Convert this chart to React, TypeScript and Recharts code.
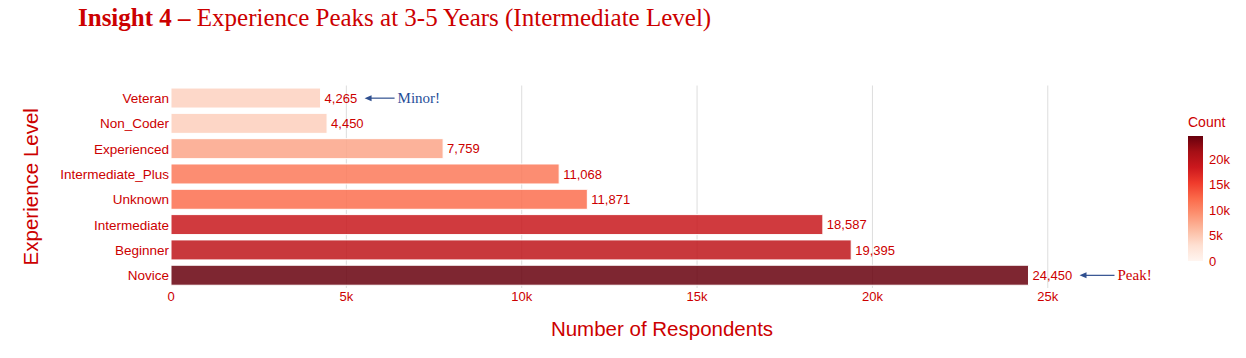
import React from "react";
import { Bar, BarChart, CartesianGrid, Cell, LabelList, ReferenceDot, XAxis, YAxis } from "recharts";

const levels = [
  "Veteran",
  "Non_Coder",
  "Experienced",
  "Intermediate_Plus",
  "Unknown",
  "Intermediate",
  "Beginner",
  "Novice",
];
const counts = [4265, 4450, 7759, 11068, 11871, 18587, 19395, 24450];
const xTicks = [0, 5000, 10000, 15000, 20000, 25000];
const colorbarTicks = [0, 5000, 10000, 15000, 20000];
const REDS = ["#fff5f0", "#fee0d2", "#fcbba1", "#fc9272", "#fb6a4a", "#ef3b2c", "#cb181d", "#a50f15", "#67000d"];

const X_MAX = 28000;
const RED_TEXT = "#cc0000";
const ARROW = "#2f4f8f";
const SANS = "'Liberation Sans', Arial, sans-serif";
const SERIF = "'Liberation Serif', 'Times New Roman', serif";

const cmax = Math.max(...counts);
const data = levels.map((name, i) => ({ name, count: counts[i] }));

document.body.style.margin = "0";

function hexToRgb(hex: string) {
  const n = parseInt(hex.slice(1), 16);
  return [(n >> 16) & 255, (n >> 8) & 255, n & 255];
}

function redsColor(value: number) {
  const t = Math.min(1, Math.max(0, value / cmax)) * (REDS.length - 1);
  const i = Math.min(REDS.length - 2, Math.floor(t));
  const f = t - i;
  const a = hexToRgb(REDS[i]);
  const b = hexToRgb(REDS[i + 1]);
  const c = a.map((v, k) => Math.round(v + (b[k] - v) * f));
  return `rgb(${c[0]},${c[1]},${c[2]})`;
}

const fmtK = (v: number) => (v === 0 ? "0" : `${v / 1000}k`);

function Annotation({
  cx,
  cy,
  text,
  color,
  tip,
  tail,
}: {
  cx?: number;
  cy?: number;
  text: string;
  color: string;
  tip: number;
  tail: number;
}) {
  if (cx == null || cy == null) return null;
  const x1 = cx + tip;
  const x2 = cx + tail;
  return (
    <g>
      <line x1={x1 + 5} y1={cy} x2={x2} y2={cy} stroke={ARROW} strokeWidth={1.2} />
      <path d={`M${x1},${cy} L${x1 + 7},${cy - 3} L${x1 + 7},${cy + 3} Z`} fill={ARROW} />
      <text x={x2 + 3} y={cy + 5} fill={color} fontFamily={SERIF} fontSize={15}>
        {text}
      </text>
    </g>
  );
}

function ColorBar() {
  const top = 136;
  const bottom = 261;
  const y = (v: number) => bottom - (v / cmax) * (bottom - top);
  return (
    <svg width={80} height={180} style={{ position: "absolute", left: 1170, top: 105 }}>
      <defs>
        <linearGradient id="reds" x1="0" y1="1" x2="0" y2="0">
          {REDS.map((c, i) => (
            <stop key={c} offset={`${(i / (REDS.length - 1)) * 100}%`} stopColor={c} />
          ))}
        </linearGradient>
      </defs>
      <text x={18} y={22} fill={RED_TEXT} fontFamily={SANS} fontSize={14}>
        Count
      </text>
      <rect x={18} y={top - 105} width={15} height={bottom - top} fill="url(#reds)" />
      {colorbarTicks.map((v) => (
        <text key={v} x={39} y={y(v) - 105 + 5} fill={RED_TEXT} fontFamily={SANS} fontSize={13}>
          {fmtK(v)}
        </text>
      ))}
    </svg>
  );
}

export default function App() {
  return (
    <div style={{ position: "relative", width: 1246, height: 358, background: "#fff", overflow: "hidden" }}>
      <div
        style={{
          position: "absolute",
          left: 78,
          top: 4,
          fontFamily: SERIF,
          fontSize: 25,
          color: RED_TEXT,
          whiteSpace: "nowrap",
        }}
      >
        <b>Insight 4 –</b> Experience Peaks at 3-5 Years (Intermediate Level)
      </div>
      <BarChart
        width={1246}
        height={358}
        data={data}
        layout="vertical"
        margin={{ top: 85.5, right: 93, bottom: 0, left: 0 }}
        barCategoryGap="10%"
      >
        <CartesianGrid
          horizontal={false}
          stroke="#dddddd"
          verticalCoordinatesGenerator={({ offset }: any) =>
            xTicks.filter((v) => v > 0).map((v) => offset.left + (v / X_MAX) * offset.width)
          }
        />
        <XAxis
          type="number"
          domain={[0, X_MAX]}
          ticks={xTicks}
          tickFormatter={fmtK}
          axisLine={false}
          tickLine={false}
          tickSize={0}
          tickMargin={4}
          height={70}
          tick={{ fill: RED_TEXT, fontFamily: SANS, fontSize: 13 }}
          label={{
            value: "Number of Respondents",
            position: "center",
            dy: 6,
            fill: RED_TEXT,
            fontFamily: SANS,
            fontSize: 20.5,
          }}
        />
        <YAxis
          type="category"
          dataKey="name"
          width={171}
          axisLine={false}
          tickLine={false}
          tickSize={0}
          tickMargin={2}
          interval={0}
          tick={{ fill: RED_TEXT, fontFamily: SANS, fontSize: 13.5 }}
          label={{
            value: "Experience Level",
            position: "center",
            angle: -90,
            dx: -55,
            fill: RED_TEXT,
            fontFamily: SANS,
            fontSize: 20.5,
          }}
        />
        <Bar dataKey="count" isAnimationActive={false} fillOpacity={0.85} stroke="#ffffff" strokeWidth={1}>
          {data.map((d) => (
            <Cell key={d.name} fill={redsColor(d.count)} />
          ))}
          <LabelList
            dataKey="count"
            position="right"
            offset={4}
            formatter={(v: number) => Number(v).toLocaleString("en-US")}
            fill={RED_TEXT}
            fontFamily={SANS}
            fontSize={13}
          />
        </Bar>
        <ReferenceDot
          x={counts[0]}
          y={levels[0]}
          r={0}
          shape={(p: any) => <Annotation cx={p.cx} cy={p.cy} text="Minor!" color="#1f4e99" tip={44} tail={74} />}
        />
        <ReferenceDot
          x={counts[7]}
          y={levels[7]}
          r={0}
          shape={(p: any) => <Annotation cx={p.cx} cy={p.cy} text="Peak!" color={RED_TEXT} tip={51} tail={86} />}
        />
      </BarChart>
      <ColorBar />
    </div>
  );
}
